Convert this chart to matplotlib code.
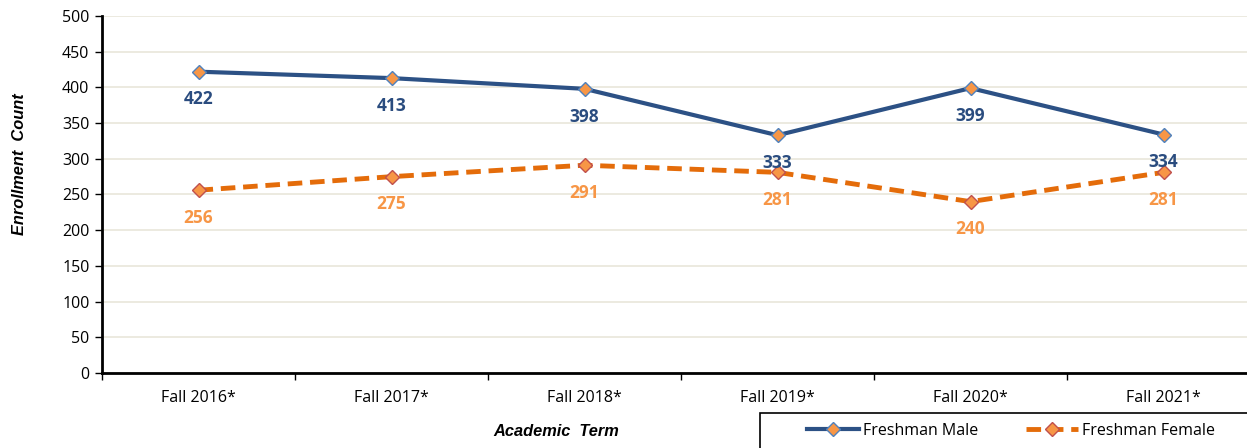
import matplotlib.pyplot as plt
from matplotlib.patches import Rectangle
import numpy as np

# enrollment data
terms = ['Fall 2016*', 'Fall 2017*', 'Fall 2018*', 'Fall 2019*', 'Fall 2020*', 'Fall 2021*']
male = [422, 413, 398, 333, 399, 334]
female = [256, 275, 291, 281, 240, 281]

W, H = 1247, 448
fig = plt.figure(figsize=(W / 100, H / 100), dpi=100)
# axes spans a bit past the right edge like the original
ax = fig.add_axes([102 / W, 1 - 373 / H, 1158 / W, 357 / H])

x = np.arange(len(terms))
ax.plot(x, male, color='#2C5185', lw=3, marker='D', ms=7.5,
        mfc='#F79646', mec='#4F81BD', mew=1, label='Freshman Male', zorder=3)
ax.plot(x, female, color='#E46C0A', lw=3.5, ls=(0, (3, 1.6)), marker='D', ms=7.5,
        mfc='#F79646', mec='#C0504D', mew=1, label='Freshman Female', zorder=3)

for i in range(len(terms)):
    ax.annotate(str(male[i]), (x[i], male[i]), xytext=(0, -20), textcoords='offset points',
                ha='center', va='center', color='#2A4C7F', fontweight='bold',
                fontsize=12.5, family='Open Sans', zorder=4)
    ax.annotate(str(female[i]), (x[i], female[i]), xytext=(0, -20), textcoords='offset points',
                ha='center', va='center', color='#F79646', fontweight='bold',
                fontsize=12.5, family='Open Sans', zorder=4)

ax.set_xlim(-0.5, len(terms) - 0.5)
ax.set_ylim(0, 500)
ax.set_yticks(range(0, 501, 50))
ax.set_xticks(x)
ax.set_xticklabels(terms)
ax.set_xticks(np.arange(-0.5, len(terms), 1), minor=True)
ax.tick_params(axis='x', which='major', length=0, pad=12)
ax.tick_params(axis='x', which='minor', length=5, width=1, direction='out')
ax.tick_params(axis='y', length=5, width=1, direction='out', pad=4)
for lab in ax.get_xticklabels() + ax.get_yticklabels():
    lab.set_fontfamily('Open Sans')
    lab.set_fontsize(11.5)

ax.grid(axis='y', color='#E9E6DA', lw=1.2)
ax.set_axisbelow(True)
for s in ['top', 'right']:
    ax.spines[s].set_visible(False)
ax.spines['left'].set_linewidth(2)
ax.spines['bottom'].set_linewidth(2)

fig.text(20 / W, 1 - 164 / H, 'Enrollment  Count', rotation=90, ha='center', va='center',
         fontsize=11.8, fontweight='bold', fontstyle='italic', family='Liberation Sans')
fig.text(556 / W, 1 - 431 / H, 'Academic  Term', ha='center', va='center',
         fontsize=11.8, fontweight='bold', fontstyle='italic', family='Liberation Sans')

# legend box running off the bottom right corner
fig.patches.append(Rectangle((760 / W, -0.05), 0.5, 0.05 + (448 - 413) / H,
                             transform=fig.transFigure, fill=False, ec='black', lw=1.2))
leg = fig.legend(loc='center left', bbox_to_anchor=(801 / W, 1 - 431 / H), ncol=2,
                 frameon=False, handlelength=3.2, columnspacing=3.0, handletextpad=0.3,
                 borderaxespad=0, prop={'family': 'Open Sans', 'size': 11.5})

fig.savefig('out.png', dpi=100)
